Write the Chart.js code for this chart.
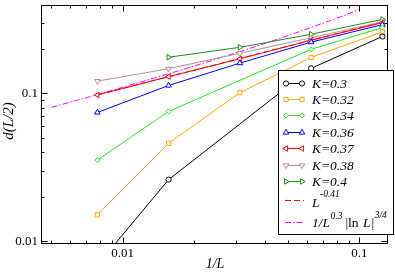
<!DOCTYPE html>
<html>
<head>
<meta charset="utf-8">
<script src="https://cdn.jsdelivr.net/npm/chart.js@4/dist/chart.umd.min.js"></script>
<style>
  html, body { margin: 0; padding: 0; background: #fff; }
  #wrap { width: 395px; height: 272px; }
</style>
</head>
<body>
<div id="wrap"><canvas id="c" width="395" height="272"></canvas></div>
<script>
// ==========================
// DATA
// ==========================
const invL = [0.0078125, 0.015625, 0.03125, 0.0625, 0.125]; // 1/L for L = 128 ... 8

const k030 = [0.0069, 0.0261, null, 0.1476, 0.2425];
const k032 = [0.0151, 0.0460, 0.1011, 0.1750, 0.2606];
const k034 = [0.0354, 0.0755, null, 0.1986, 0.2786];
const k036 = [0.0743, 0.1131, 0.1602, 0.2222, 0.2916];
const k037 = [0.0976, 0.1298, 0.1711, 0.2291, 0.3006];
const k038 = [0.1210, 0.1468, 0.1868, 0.2377, 0.3053];
const k040 = [null, 0.1756, 0.2048, 0.2512, 0.3162];

// L^-0.41 guide line
const powX = [0.0078125, 0.125];
const powY = [0.0976, 0.304];

// 1/(L^0.3 |ln L|^3/4) guide curve
const logX = [0.005, 0.00625, 0.0078125, 0.01, 0.015625, 0.0208, 0.03125, 0.0417, 0.0625, 0.0833, 0.1];
const logY = [0.0804, 0.0888, 0.0981, 0.110, 0.1357, 0.156, 0.1917, 0.2227, 0.279, 0.330, 0.369];

const xTickVals = [0.01, 0.1];
const xTickLabels = ["0.01", "0.1"];
const yTickVals = [0.01, 0.1];
const yTickLabels = ["0.01", "0.1"];

// ==========================
// SERIES
// ==========================
const series = [
  { label: "K=0.3",  vals: k030, color: "#000000", style: "circle",   rot: 0,   r: 2.6 },
  { label: "K=0.32", vals: k032, color: "#ffa500", style: "rect",     rot: 0,   r: 3.0 },
  { label: "K=0.34", vals: k034, color: "#1ee81e", style: "rectRot",  rot: 0,   r: 2.6 },
  { label: "K=0.36", vals: k036, color: "#0000ff", style: "triangle", rot: 0,   r: 3.2 },
  { label: "K=0.37", vals: k037, color: "#ff0000", style: "triangle", rot: 270, r: 3.2 },
  { label: "K=0.38", vals: k038, color: "#bc8f8f", style: "triangle", rot: 180, r: 3.2 },
  { label: "K=0.4",  vals: k040, color: "#228b22", style: "triangle", rot: 90,  r: 3.2 }
];

const datasets = series.map(s => ({
  label: s.label,
  data: invL.map((x, i) => ({ x: x, y: s.vals[i] })).filter(p => p.y !== null),
  borderColor: s.color,
  backgroundColor: "#ffffff",
  borderWidth: 1,
  pointStyle: s.style,
  pointRotation: s.rot,
  pointRadius: s.r,
  pointBorderWidth: 1,
  pointBorderColor: s.color,
  pointBackgroundColor: "#ffffff",
  tension: 0
}));

datasets.push({
  label: "L^-0.41",
  data: powX.map((x, i) => ({ x: x, y: powY[i] })),
  borderColor: "#ff0000",
  borderWidth: 1,
  borderDash: [6, 3],
  pointRadius: 0,
  tension: 0
});

datasets.push({
  label: "log",
  data: logX.map((x, i) => ({ x: x, y: logY[i] })),
  borderColor: "#ff00ff",
  borderWidth: 1,
  borderDash: [6, 2, 1.5, 2],
  pointRadius: 0,
  tension: 0
});

// ==========================
// DECORATION: frame, ticks, labels, legend
// ==========================
const SERIF = '"Liberation Serif", "DejaVu Serif", serif';

function marker(ctx, s, x, y) {
  ctx.save();
  ctx.strokeStyle = s.color;
  ctx.fillStyle = "#ffffff";
  ctx.lineWidth = 1;
  ctx.setLineDash([]);
  if (Chart.helpers && Chart.helpers.drawPoint) {
    Chart.helpers.drawPoint(ctx, { pointStyle: s.style, rotation: s.rot, radius: s.r, borderWidth: 1 }, x, y);
  } else {
    ctx.beginPath();
    ctx.arc(x, y, s.r, 0, Math.PI * 2);
    ctx.fill();
    ctx.stroke();
  }
  ctx.restore();
}

const decor = {
  id: "decor",
  beforeDraw(chart) {
    const ctx = chart.ctx;
    ctx.save();
    ctx.fillStyle = "#ffffff";
    ctx.fillRect(0, 0, chart.width, chart.height);
    ctx.restore();
  },
  afterDatasetsDraw(chart) {
    const { ctx, chartArea: a, scales } = chart;
    const xs = scales.x, ys = scales.y;
    ctx.save();
    ctx.strokeStyle = "#000";
    ctx.lineWidth = 1;
    ctx.setLineDash([]);

    // frame
    const L = Math.round(a.left) - 0.5, R = Math.round(a.right) - 0.5;
    const T = Math.round(a.top) + 0.5, B = Math.round(a.bottom) - 0.5;
    ctx.strokeRect(L, T, R - L, B - T);

    // ticks (inward, all four sides)
    ctx.beginPath();
    for (let e = -3; e <= 0; e++) {
      for (let m = 1; m <= 9; m++) {
        const v = m * Math.pow(10, e);
        const len = m === 1 ? 6 : 3;
        if (v >= xs.min && v <= xs.max) {
          const px = Math.round(xs.getPixelForValue(v)) + 0.5;
          ctx.moveTo(px, B); ctx.lineTo(px, B - len);
          ctx.moveTo(px, T); ctx.lineTo(px, T + len);
        }
        if (v >= ys.min && v <= ys.max) {
          const py = Math.round(ys.getPixelForValue(v)) + 0.5;
          ctx.moveTo(L, py); ctx.lineTo(L + len, py);
          ctx.moveTo(R, py); ctx.lineTo(R - len, py);
        }
      }
    }
    ctx.stroke();

    // tick labels
    ctx.fillStyle = "#000";
    ctx.font = "13px " + SERIF;
    ctx.textAlign = "center";
    ctx.textBaseline = "middle";
    xTickVals.forEach((v, i) => ctx.fillText(xTickLabels[i], xs.getPixelForValue(v), 254));
    ctx.textAlign = "right";
    yTickVals.forEach((v, i) => ctx.fillText(yTickLabels[i], 38, ys.getPixelForValue(v)));

    // axis titles
    ctx.font = "italic 14px " + SERIF;
    ctx.textAlign = "center";
    ctx.fillText("1/L", (a.left + a.right) / 2, 264);
    ctx.save();
    ctx.translate(9, 121);
    ctx.rotate(-Math.PI / 2);
    ctx.font = "italic 15px " + SERIF;
    ctx.fillText("d(L/2)", 0, 0);
    ctx.restore();

    // legend box
    ctx.fillStyle = "#fff";
    ctx.fillRect(278.5, 70.5, 115, 164);
    ctx.strokeRect(278.5, 70.5, 115, 164);

    const x0 = 286, x1 = 302, tx = 312;
    ctx.textAlign = "left";
    series.forEach((s, i) => {
      const y = Math.round(82.5 + i * 16.4) + 0.5;
      ctx.strokeStyle = s.color;
      ctx.beginPath(); ctx.moveTo(x0, y); ctx.lineTo(x1, y); ctx.stroke();
      marker(ctx, s, x0, y);
      marker(ctx, s, x1, y);
      ctx.fillStyle = "#000";
      ctx.font = "italic 13.5px " + SERIF;
      ctx.textBaseline = "middle";
      ctx.fillText(s.label, tx, y + 0.5);
    });

    // L^-0.41 row
    ctx.strokeStyle = "#ff0000";
    ctx.setLineDash([6, 3]);
    ctx.beginPath(); ctx.moveTo(285, 200.5); ctx.lineTo(304, 200.5); ctx.stroke();
    ctx.setLineDash([]);
    ctx.fillStyle = "#000";
    ctx.textBaseline = "alphabetic";
    ctx.font = "italic 13.5px " + SERIF;
    ctx.fillText("L", tx, 206.5);
    let w = ctx.measureText("L").width;
    ctx.font = "italic 9.5px " + SERIF;
    ctx.fillText("-0.41", tx + w + 0.5, 197);

    // 1/L^0.3 |ln L|^3/4 row
    ctx.strokeStyle = "#ff00ff";
    ctx.setLineDash([6, 2, 1.5, 2]);
    ctx.beginPath(); ctx.moveTo(285, 222.5); ctx.lineTo(304, 222.5); ctx.stroke();
    ctx.setLineDash([]);
    let cx = tx;
    const by = 227, sy = 218.5;
    ctx.font = "italic 13.5px " + SERIF;
    ctx.fillText("1/L", cx, by); cx += ctx.measureText("1/L").width + 0.5;
    ctx.font = "italic 9.5px " + SERIF;
    ctx.fillText("0.3", cx, sy); cx += ctx.measureText("0.3").width + 3;
    ctx.font = "13.5px " + SERIF;
    ctx.fillText("|ln ", cx, by); cx += ctx.measureText("|ln ").width + 1;
    ctx.font = "italic 13.5px " + SERIF;
    ctx.fillText("L", cx, by); cx += ctx.measureText("L").width + 1;
    ctx.font = "13.5px " + SERIF;
    ctx.fillText("|", cx, by); cx += ctx.measureText("|").width + 0.5;
    ctx.font = "italic 9.5px " + SERIF;
    ctx.fillText("3/4", cx, sy - 1);

    ctx.restore();
  }
};

// ==========================
// CHART
// ==========================
new Chart(document.getElementById("c").getContext("2d"), {
  type: "line",
  data: { datasets: datasets },
  options: {
    responsive: false,
    animation: false,
    layout: { padding: { top: 1, right: 7, left: 0, bottom: 0 } },
    plugins: { legend: { display: false }, tooltip: { enabled: false } },
    scales: {
      x: {
        type: "logarithmic",
        min: 0.00456,
        max: 0.132,
        bounds: "data",
        grid: { display: false },
        border: { display: false },
        ticks: { display: false },
        afterFit: s => { s.height = 28; }
      },
      y: {
        type: "logarithmic",
        min: 0.00958,
        max: 0.396,
        bounds: "data",
        grid: { display: false },
        border: { display: false },
        ticks: { display: false },
        afterFit: s => { s.width = 42; }
      }
    }
  },
  plugins: [decor]
});
</script>
</body>
</html>
